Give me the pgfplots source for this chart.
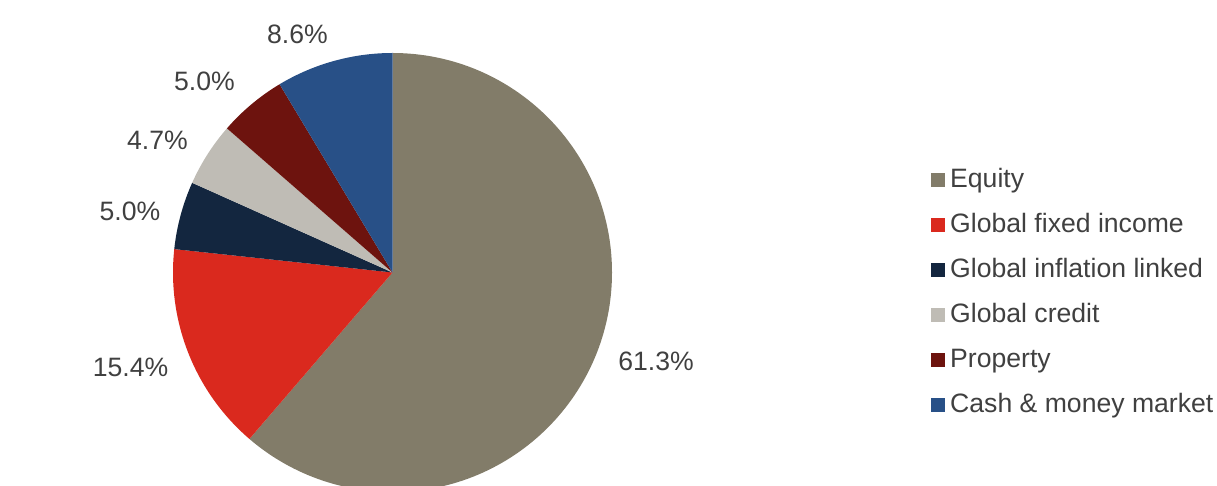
\documentclass[border=0pt]{standalone}
\usepackage{pgfplots}
\pgfplotsset{compat=1.18}
\usepackage{pgfplotstable}
\usepackage{fontspec}
\setmainfont{Liberation Sans}

\definecolor{cEquity}{HTML}{827C69}
\definecolor{cFixed}{HTML}{DA291E}
\definecolor{cInfl}{HTML}{13263F}
\definecolor{cCredit}{HTML}{BFBCB5}
\definecolor{cProp}{HTML}{6D130E}
\definecolor{cCash}{HTML}{285087}
\definecolor{txtgrey}{HTML}{404040}

% share (%), slice colour, label centre (px, y down), legend text
\pgfplotstableread[col sep=comma]{
value,colour,lx,ly,name
61.3,cEquity,656,361,Equity
15.4,cFixed,130.5,367,Global fixed income
5.0,cInfl,130,211,Global inflation linked
4.7,cCredit,157.5,140,Global credit
5.0,cProp,204.5,81,Property
8.6,cCash,297.5,34,Cash \& money market
}\piedata

\begin{document}
\begin{tikzpicture}
  \begin{axis}[
    scale only axis,
    width=1217pt, height=486pt,
    xmin=0, xmax=1217, ymin=0, ymax=486,
    hide axis,
    clip=true,
  ]
    \pgfplotsextra{
      \fontsize{26.6}{31}\selectfont
      \pgfplotstablegetrowsof{\piedata}
      \pgfmathtruncatemacro\nrows{\pgfplotsretval-1}
      \gdef\angA{90}
      \foreach \i in {0,...,\nrows} {
        \pgfplotstablegetelem{\i}{value}\of{\piedata}\let\val\pgfplotsretval
        \pgfplotstablegetelem{\i}{colour}\of{\piedata}\let\col\pgfplotsretval
        \pgfplotstablegetelem{\i}{lx}\of{\piedata}\let\lx\pgfplotsretval
        \pgfplotstablegetelem{\i}{ly}\of{\piedata}\let\ly\pgfplotsretval
        \pgfplotstablegetelem{\i}{name}\of{\piedata}\let\nm\pgfplotsretval
        \pgfmathsetmacro\angB{\angA-3.6*\val}
        % slice
        \fill[\col] (axis cs:392.5,213.5) -- ++(\angA:219.5pt)
          arc[start angle=\angA, end angle=\angB, radius=219.5pt] -- cycle;
        % data label
        \pgfmathsetmacro\lyy{486-\ly}
        \node[text=txtgrey, inner sep=0pt, anchor=center]
          at (axis cs:\lx,\lyy) {\val\%};
        % legend entry
        \pgfmathsetmacro\sqt{486-(173+45*\i)}
        \pgfmathsetmacro\sqb{486-(187+45*\i)}
        \fill[\col] (axis cs:931,\sqt) rectangle (axis cs:945,\sqb);
        \pgfmathsetmacro\lbase{486-(187.5+45*\i)}
        \node[text=txtgrey, inner sep=0pt, anchor=base west]
          at (axis cs:950,\lbase) {\nm};
        \xdef\angA{\angB}
      }
    }
  \end{axis}
  \pgfresetboundingbox
  \useasboundingbox (current axis.south west) rectangle (current axis.north east);
\end{tikzpicture}
\end{document}
